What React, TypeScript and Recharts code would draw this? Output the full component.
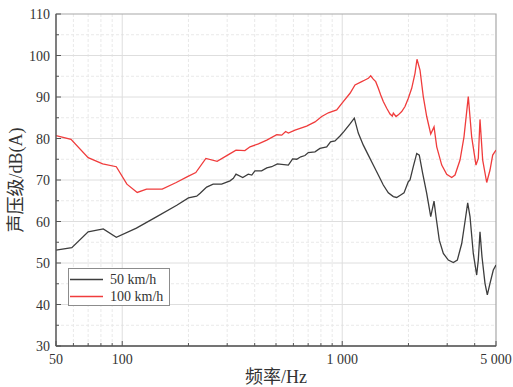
import React from 'react';
import { LineChart, Line, XAxis, YAxis, CartesianGrid, ReferenceArea, Legend } from 'recharts';

// ---- data ----
const freq50 = [50, 59, 70, 82, 94, 116, 143, 177, 200, 218, 226, 242, 259, 283, 309, 320, 329, 353, 374, 388, 401, 430, 454, 478, 507, 569, 595, 621, 648, 677, 701, 752, 792, 850, 885, 927, 977, 1019, 1085, 1135, 1183, 1247, 1314, 1384, 1459, 1537, 1620, 1707, 1768, 1844, 1909, 1997, 2033, 2105, 2181, 2240, 2321, 2421, 2525, 2614, 2668, 2762, 2881, 3036, 3199, 3336, 3493, 3615, 3718, 3809, 3942, 4085, 4154, 4229, 4318, 4456, 4566, 4696, 4861, 5000];
const level50 = [53.1, 53.7, 57.5, 58.2, 56.2, 58.4, 61.1, 63.9, 65.7, 66.1, 66.8, 68.3, 69.0, 69.0, 69.8, 70.4, 71.4, 70.6, 71.4, 71.2, 72.2, 72.2, 72.9, 73.2, 73.9, 73.6, 75.1, 75.0, 75.6, 75.9, 76.6, 76.8, 77.6, 78.0, 79.2, 79.4, 80.6, 81.7, 83.5, 84.9, 81.3, 78.4, 76.0, 73.6, 71.2, 68.8, 66.9, 66.0, 65.8, 66.4, 66.9, 69.6, 70.0, 73.3, 76.4, 76.0, 71.6, 66.8, 61.2, 64.9, 61.2, 55.5, 52.3, 50.7, 50.1, 50.7, 54.7, 60.0, 64.5, 61.2, 52.3, 47.1, 50.7, 57.5, 51.5, 45.1, 42.3, 45.1, 48.3, 49.5];

const freq100 = [50, 58.5, 70, 81.5, 94, 105, 117, 129, 152, 176, 198, 216, 240, 270, 304, 329, 361, 381, 416, 454, 504, 531, 553, 569, 610, 689, 752, 807, 865, 944, 1011, 1085, 1143, 1226, 1269, 1314, 1347, 1384, 1420, 1459, 1496, 1537, 1593, 1649, 1689, 1707, 1756, 1799, 1864, 1929, 1997, 2069, 2142, 2187, 2257, 2336, 2421, 2525, 2614, 2689, 2833, 2985, 3145, 3256, 3431, 3577, 3741, 3876, 4055, 4154, 4229, 4350, 4537, 4696, 4830, 5000];
const level100 = [80.7, 79.8, 75.4, 73.9, 73.2, 69.0, 67.0, 67.8, 67.8, 69.4, 70.8, 71.8, 75.2, 74.5, 76.1, 77.2, 77.1, 78.0, 78.7, 79.6, 80.9, 80.8, 81.7, 81.3, 82.0, 83.0, 84.0, 85.3, 86.2, 86.9, 88.9, 90.9, 92.9, 93.7, 94.1, 94.5, 95.1, 94.3, 93.7, 92.1, 90.5, 88.9, 87.3, 85.9, 85.4, 86.1, 85.3, 85.7, 86.5, 87.7, 89.7, 92.1, 95.7, 99.1, 96.5, 90.1, 85.3, 81.1, 82.8, 78.0, 73.6, 71.4, 70.6, 71.2, 74.8, 80.4, 90.1, 80.4, 73.6, 75.2, 84.6, 74.8, 69.4, 72.4, 76.0, 77.2];

const seriesNames = ['50 km/h', '100 km/h'];
const seriesColors = ['#3d3d3d', '#f03c3c'];

const xMajorTicks = [50, 100, 1000, 5000];
const xMinorTicks = [60, 70, 80, 90, 200, 300, 400, 500, 600, 700, 800, 900, 2000, 3000, 4000];
const xTickLabels: Record<number, string> = { 50: '50', 100: '100', 1000: '1 000', 5000: '5 000' };
const yMajorTicks = [30, 40, 50, 60, 70, 80, 90, 100, 110];
const yMinorTicks = [35, 45, 55, 65, 75, 85, 95, 105];

const xTitle = '频率/Hz';
const yTitle = '声压级/dB(A)';

const data50 = freq50.map((f, i) => ({ f, v: level50[i] }));
const data100 = freq100.map((f, i) => ({ f, v: level100[i] }));

const FONT = "'Liberation Serif', 'Times New Roman', 'Noto Sans CJK SC', serif";
const AXIS_COLOR = '#555';
const X_MARGIN = 4;
const Y_MARGIN = 6;

const XTick = (props: any) => {
  const { x, y, payload } = props;
  const v = payload.value;
  const major = xMajorTicks.includes(v);
  const axisY = y - X_MARGIN;
  return (
    <g>
      <line x1={x} x2={x} y1={axisY} y2={axisY - (major ? 5 : 3)} stroke={AXIS_COLOR} strokeWidth={1} />
      {major && (
        <text x={x} y={axisY + 18} textAnchor="middle" fontFamily={FONT} fontSize={14} fill="#333">
          {xTickLabels[v]}
        </text>
      )}
    </g>
  );
};

const YTick = (props: any) => {
  const { x, y, payload } = props;
  const v = payload.value;
  const major = yMajorTicks.includes(v);
  const axisX = x + Y_MARGIN;
  return (
    <g>
      <line x1={axisX} x2={axisX + (major ? 5 : 3)} y1={y} y2={y} stroke={AXIS_COLOR} strokeWidth={1} />
      {major && (
        <text x={axisX - 6} y={y + 5} textAnchor="end" fontFamily={FONT} fontSize={14} fill="#333">
          {v}
        </text>
      )}
    </g>
  );
};

const LegendBox = () => (
  <div
    style={{
      border: '1px solid #8c8c8c',
      background: '#fff',
      width: 102,
      height: 38,
      boxSizing: 'border-box',
      paddingTop: 2,
      fontFamily: FONT,
      fontSize: 14,
      color: '#333',
    }}
  >
    {seriesNames.map((n, i) => (
      <div key={n} style={{ display: 'flex', alignItems: 'center', height: 17, lineHeight: '17px' }}>
        <svg width={41} height={17} style={{ display: 'block' }}>
          <line x1={1} x2={34} y1={8.5} y2={8.5} stroke={seriesColors[i]} strokeWidth={1.3} />
        </svg>
        <span style={{ whiteSpace: 'nowrap' }}>{n}</span>
      </div>
    ))}
  </div>
);

export default function App() {
  return (
    <div style={{ position: 'absolute', left: 0, top: 0 }}>
      <LineChart width={513} height={387} margin={{ top: 14, right: 17, left: 0, bottom: 0 }}>
        <CartesianGrid
          stroke="#e9e9e9"
          strokeDasharray="3 2"
          horizontalValues={yMinorTicks}
          verticalValues={xMinorTicks}
        />
        <CartesianGrid
          stroke="#dedede"
          horizontalValues={yMajorTicks.slice(1, -1)}
          verticalValues={[100, 1000]}
        />
        <XAxis
          type="number"
          dataKey="f"
          scale="log"
          domain={[50, 5000]}
          allowDataOverflow
          ticks={[...xMajorTicks, ...xMinorTicks].sort((a, b) => a - b)}
          interval={0}
          tickSize={0}
          tickMargin={X_MARGIN}
          tick={<XTick />}
          height={41}
          axisLine={{ stroke: AXIS_COLOR, strokeWidth: 1.3 }}
          label={{
            content: (p: any) => {
              const vb = p.viewBox;
              return (
                <text x={vb.x + vb.width / 2} y={383} textAnchor="middle" fontFamily={FONT} fontSize={18} fill="#333">
                  {xTitle}
                </text>
              );
            },
          }}
        />
        <YAxis
          type="number"
          domain={[30, 110]}
          ticks={[...yMajorTicks, ...yMinorTicks].sort((a, b) => a - b)}
          interval={0}
          tickSize={0}
          tickMargin={Y_MARGIN}
          tick={<YTick />}
          width={56}
          axisLine={{ stroke: AXIS_COLOR, strokeWidth: 1.3 }}
          label={{
            content: (p: any) => {
              const vb = p.viewBox;
              const cy = vb.y + vb.height / 2;
              return (
                <text
                  transform={`translate(22, ${cy}) rotate(-90)`}
                  textAnchor="middle"
                  fontFamily={FONT}
                  fontSize={18}
                  fill="#333"
                >
                  {yTitle}
                </text>
              );
            },
          }}
        />
        <ReferenceArea x1={50} x2={5000} y1={30} y2={110} fill="none" stroke="#a8a8a8" strokeWidth={1.2} />
        <Line
          data={data50}
          dataKey="v"
          name={seriesNames[0]}
          stroke={seriesColors[0]}
          strokeWidth={1.3}
          dot={false}
          activeDot={false}
          type="linear"
          isAnimationActive={false}
        />
        <Line
          data={data100}
          dataKey="v"
          name={seriesNames[1]}
          stroke={seriesColors[1]}
          strokeWidth={1.3}
          dot={false}
          activeDot={false}
          type="linear"
          isAnimationActive={false}
        />
        <Legend
          layout="vertical"
          align="center"
          verticalAlign="middle"
          content={<LegendBox />}
          wrapperStyle={{ position: 'absolute', left: 68, top: 268, width: 102, height: 38 }}
        />
      </LineChart>
    </div>
  );
}
